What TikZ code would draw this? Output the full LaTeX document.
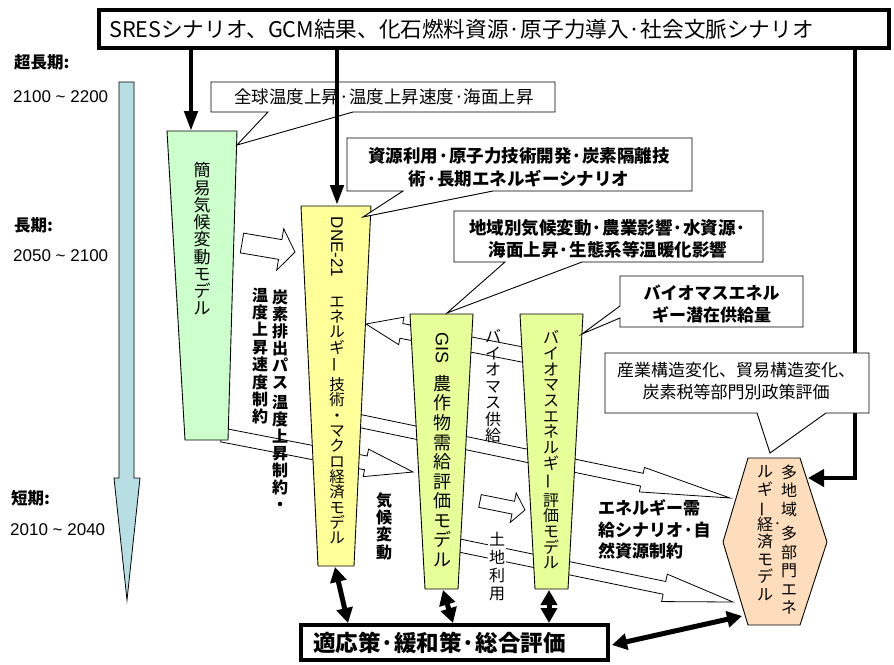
\documentclass[tikz,border=0pt]{standalone}
\usepackage{fontspec}
\usepackage{graphicx}
\setmainfont{Noto Sans CJK JP}
\newfontfamily\lib{Liberation Sans}
\usetikzlibrary{arrows.meta,calc}
\definecolor{cgreen}{RGB}{204,255,204}
\definecolor{cyellow}{RGB}{255,255,153}
\definecolor{clime}{RGB}{230,255,153}
\definecolor{cpeach}{RGB}{253,221,188}
\definecolor{cblue}{RGB}{183,222,226}
\newcommand\fsz[2]{\fontsize{#1pt}{#2pt}\selectfont}
\newcommand\vchoon{\raisebox{0pt}[0.8em][0.2em]{\rotatebox[origin=c]{90}{ー}}}
% block (hollow) arrow: name, from, to, shaft half width, head half width, head length
\newcommand\blockarrow[6]{%
  \coordinate (#1-h) at ($(#3)!#6pt!(#2)$);
  \draw[blockar] ($(#2)!#4pt!90:(#3)$) -- ($(#1-h)!#4pt!90:(#3)$) -- ($(#1-h)!#5pt!90:(#3)$) -- (#3)
    -- ($(#1-h)!#5pt!-90:(#3)$) -- ($(#1-h)!#4pt!-90:(#3)$) -- ($(#2)!#4pt!-90:(#3)$) -- cycle;}
\begin{document}
\begin{tikzpicture}[x=1pt,y=-1pt,
  trap/.style={draw=black, line width=0.9pt, line join=miter},
  blockar/.style={draw=black, fill=white, line width=0.8pt, line join=miter},
  callout/.style={draw=black, fill=white, line width=0.9pt},
  thickar/.style={line width=4.5pt, -{Triangle[length=20pt,width=13pt]}},
  thickline/.style={line width=4.5pt},
  dblar/.style={line width=5pt, {Triangle[length=15pt,width=16pt]}-{Triangle[length=15pt,width=16pt]}},
  vt/.style={align=center, inner sep=0pt},
  lbl/.style={inner sep=0pt, anchor=west},
]
\useasboundingbox (0,0) rectangle (894,664);

% time line
\draw[line width=0.8pt, fill=cblue] (119,82) -- (134,82) -- (134,478) -- (140,478) -- (127,600) -- (114,478) -- (119,478) -- cycle;
\node[lbl, font=\bfseries\fsz{16.5}{20}] (t1) at (14,62) {超長期:};
\node[lbl, font=\lib\fsz{17}{20}] (y1) at (13,97) {2100 \textasciitilde{} 2200};
\node[lbl, font=\bfseries\fsz{16.5}{20}] (t2) at (14,225) {長期:};
\node[lbl, font=\lib\fsz{17}{20}] (y2) at (13,256) {2050 \textasciitilde{} 2100};
\node[lbl, font=\bfseries\fsz{16.5}{20}] (t3) at (11,498) {短期:};
\node[lbl, font=\lib\fsz{17}{20}] (y3) at (10,530) {2010 \textasciitilde{} 2040};

% hollow block arrows (behind the model shapes)
\coordinate (a1s) at (242,243); \coordinate (a1e) at (295,252);
\blockarrow{a1}{a1s}{a1e}{10}{21}{15}
\coordinate (a2s) at (530,356); \coordinate (a2e) at (366,324);
\blockarrow{a2}{a2s}{a2e}{7.5}{14}{36}
\coordinate (a3s) at (355,420); \coordinate (a3e) at (730,498);
\blockarrow{a3}{a3s}{a3e}{6.5}{12.5}{90}
\coordinate (a4s) at (452,544); \coordinate (a4e) at (733,602);
\blockarrow{a4}{a4s}{a4e}{6.5}{14}{70}
\coordinate (a5s) at (222,435); \coordinate (a5e) at (413,472);
\blockarrow{a5}{a5s}{a5e}{7}{14}{48}
\coordinate (a6s) at (480,501); \coordinate (a6e) at (525,510);
\blockarrow{a6}{a6s}{a6e}{6.5}{15}{12}

% model shapes
\draw[trap, fill=cgreen] (167,131) -- (237,131) -- (228,440) -- (185,440) -- cycle;
\draw[trap, fill=cyellow] (301,206) -- (371,206) -- (354,566) -- (318,566) -- cycle;
\draw[trap, fill=clime] (410,314) -- (473,314) -- (458,589) -- (425,589) -- cycle;
\draw[trap, fill=clime] (520,314) -- (583,314) -- (568,589) -- (535,589) -- cycle;
\draw[trap, fill=cpeach] (748,458) -- (800,458) -- (827,542) -- (800,625) -- (748,625) -- (723,542) -- cycle;

% callouts
\draw[callout] (211,82) -- (555,82) -- (555,112) -- (353,112) -- (237,145) -- (268,112) -- (211,112) -- cycle;
\draw[callout] (347,138) -- (692,138) -- (692,191) -- (493,191) -- (363,217) -- (403,191) -- (347,191) -- cycle;
\draw[callout] (454,211) -- (763,211) -- (763,262) -- (582,262) -- (447,313) -- (505,262) -- (454,262) -- cycle;
\draw[callout] (620,276) -- (803,276) -- (803,327) -- (620,327) -- (620,318) -- (582,334) -- (620,306) -- cycle;

% title box and thick arrows
\node[draw, line width=4pt, minimum width=790pt, minimum height=38pt, inner sep=0pt] (title) at (494,29) {};
\node[lbl, font=\fsz{21.6}{26}] (titletext) at (109,29) {SRESシナリオ、GCM結果、化石燃料資源·原子力導入·社会文脈シナリオ};
\coordinate (ta) at (191,48); \coordinate (gtop) at (191,131);
\coordinate (tb) at (337,48); \coordinate (dtop) at (337,205);
\coordinate (tc) at (855,48); \coordinate (rc) at (855,478); \coordinate (hexr) at (808,478);
\draw[thickar] (ta) -- (gtop);
\draw[thickar] (tb) -- (dtop);
\draw[thickline, line join=miter] (tc) -- (rc) -- ([xshift=-6pt]rc);
\draw[line width=4.5pt, -{Triangle[length=16pt,width=17pt]}] (rc) -- (hexr);

\draw[callout] (605,353) -- (869,353) -- (869,413) -- (826,413) -- (770,453) -- (757,413) -- (605,413) -- cycle;

% bottom box and double arrows
\node[draw, line width=4pt, minimum width=307pt, minimum height=35pt, inner sep=0pt] (bbox) at (454.5,642.5) {};
\node[lbl, font=\bfseries\fsz{22.5}{26}] (btext) at (313,643) {適応策·緩和策·総合評価};
\coordinate (d1a) at (335,567); \coordinate (d1b) at (348,623);
\coordinate (d2a) at (443,590); \coordinate (d2b) at (453,623);
\coordinate (d3a) at (549,590); \coordinate (d3b) at (549,623);
\coordinate (d4a) at (742,616); \coordinate (d4b) at (612,645);
\draw[dblar] (d1a) -- (d1b);
\draw[dblar] (d2a) -- (d2b);
\draw[dblar] (d3a) -- (d3b);
\draw[dblar] (d4a) -- (d4b);

% callout texts
\node[font=\fsz{17.5}{21}] (c1t) at (384,97) {全球温度上昇·温度上昇速度·海面上昇};
\node[align=center, font=\bfseries\fsz{17.5}{23}] (c2t) at (519,167) {資源利用·原子力技術開発·炭素隔離技\\術·長期エネルギーシナリオ};
\node[align=center, font=\bfseries\fsz{17.5}{22}] (c3t) at (608,239) {地域別気候変動·農業影響·水資源·\\海面上昇·生態系等温暖化影響};
\node[align=center, font=\bfseries\fsz{17}{22}] (c4t) at (711.5,304) {バイオマスエネル\\ギー潜在供給量};
\node[align=center, font=\fsz{17}{22}] (c5t) at (736,381) {産業構造変化、貿易構造変化、\\炭素税等部門別政策評価};
\node[lbl, align=left, font=\bfseries\fsz{17}{21.5}] (esc) at (598,529.5) {エネルギー需\\給シナリオ·自\\然資源制約};

% model texts (vertical)
\node[vt, font=\fsz{17}{17.25}] (gtext) at (202,239) {簡\\易\\気\\候\\変\\動\\モ\\デ\\ル};
\node[inner sep=0pt, rotate=-90, font=\lib\fsz{17}{20}] (dne) at (337,247) {DNE-21};
\node[vt, font=\fsz{15.5}{15.33}] (dtext) at (337,420.5) {エ\\ネ\\ル\\ギ\\\vchoon\\[5pt]技\\術\\・\\マ\\ク\\ロ\\経\\済\\モ\\デ\\ル};
\node[inner sep=0pt, rotate=-90, font=\lib\fsz{18}{20}] (gis) at (442,348) {GIS};
\node[vt, font=\fsz{18}{19.55}] (gistext) at (442,471) {農\\作\\物\\需\\給\\評\\価\\モ\\デ\\ル};
\node[vt, font=\fsz{16}{15.7}] (biotext) at (551,450) {バ\\イ\\オ\\マ\\ス\\エ\\ネ\\ル\\ギ\\\vchoon\\[4pt]評\\価\\モ\\デ\\ル};
\node[vt, font=\fsz{16}{18.5}] (hexr1) at (789,539.75) {多\\地\\域\\[-4.5pt]\makebox[0pt][r]{·\hspace{7pt}}\\[-8pt]多\\部\\門\\エ\\ネ};
\node[vt, font=\fsz{16}{17.5}] (hexl1) at (765,533) {ル\\ギ\\\vchoon\\経\\済\\モ\\デ\\ル};

% arrow labels (vertical)
\node[vt, font=\bfseries\fsz{16}{17}] (lab1) at (280,400.5) {炭\\素\\排\\出\\パ\\ス\\[3pt]温\\度\\上\\昇\\制\\約\\・};
\node[vt, font=\bfseries\fsz{16}{17.4}] (lab2) at (260,356) {温\\度\\上\\昇\\速\\度\\制\\約};
\node[vt, font=\fsz{16}{16.5}] (lab3) at (493,386.5) {バ\\イ\\オ\\マ\\ス\\供\\給};
\node[vt, fill=white, inner sep=1pt, font=\fsz{16}{17.7}] (lab4) at (497,566.5) {土\\地\\利\\用};
\node[vt, font=\bfseries\fsz{16}{17.3}] (lab5) at (384,526) {気\\候\\変\\動};
\end{tikzpicture}
\end{document}
